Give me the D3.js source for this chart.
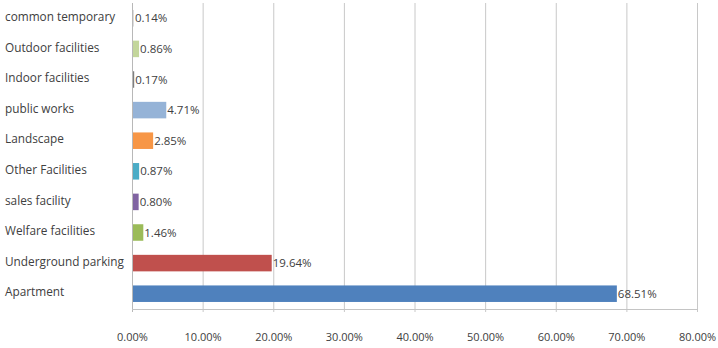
<!DOCTYPE html>
<html>
<head>
<meta charset="utf-8">
<script src="https://cdn.jsdelivr.net/npm/d3@7"></script>
<style>
  body { margin: 0; background: #fff; }
  svg text { font-family: "Open Sans", sans-serif; fill: #404040; }
</style>
</head>
<body>
<svg id="canvas"></svg>
<script>
let categories = ['common temporary', 'Outdoor facilities', 'Indoor facilities', 'public works', 'Landscape',
  'Other Facilities', 'sales facility', 'Welfare facilities', 'Underground parking', 'Apartment'];
let values = [0.14, 0.86, 0.17, 4.71, 2.85, 0.87, 0.80, 1.46, 19.64, 68.51];
let colors = ['#dcdcdc', '#c3d69b', '#7f7f7f', '#95b3d7', '#f79646', '#4bacc6', '#8064a2', '#9bbb59', '#c0504d', '#4f81bd'];
let ticks = [0, 10, 20, 30, 40, 50, 60, 70, 80];

let width = 718;
let height = 348;
let plotLeft = 132;
let plotRight = 697;
let plotTop = 3;
let plotBottom = 309;

let svg = d3.select('#canvas')
  .attr('width', width)
  .attr('height', height);

let xScale = d3.scaleLinear()
  .domain([0, 80])
  .range([plotLeft, plotRight]);

let yScale = d3.scaleBand()
  .domain(categories)
  .range([plotTop, plotBottom])
  .paddingInner(0.46)
  .paddingOuter(0.23);

// gridlines
svg.append('g')
  .selectAll('line')
  .data(ticks)
  .enter()
  .append('line')
  .attr('x1', (d) => xScale(d) + 0.5)
  .attr('x2', (d) => xScale(d) + 0.5)
  .attr('y1', plotTop)
  .attr('y2', plotBottom + 3)
  .attr('stroke', (d) => d === 0 ? '#b8b8b8' : '#c8c8c8')
  .attr('stroke-width', 1);

// bottom axis line
svg.append('line')
  .attr('x1', plotLeft)
  .attr('x2', plotRight + 1)
  .attr('y1', plotBottom + 0.5)
  .attr('y2', plotBottom + 0.5)
  .attr('stroke', '#c4c4c4');

// bars
svg.selectAll('rect.bar')
  .data(values)
  .enter()
  .append('rect')
  .attr('class', 'bar')
  .attr('x', xScale(0) + 1)
  .attr('y', (d, i) => yScale(categories[i]))
  .attr('width', (d) => Math.max(1, xScale(d) - xScale(0)))
  .attr('height', yScale.bandwidth())
  .attr('fill', (d, i) => colors[i]);

// value labels
svg.selectAll('text.val')
  .data(values)
  .enter()
  .append('text')
  .attr('class', 'val')
  .attr('x', (d) => xScale(d) + 2)
  .attr('y', (d, i) => yScale(categories[i]) + yScale.bandwidth() / 2)
  .attr('dy', '0.35em')
  .style('font-size', '11.5px')
  .text((d) => d.toFixed(2) + '%');

// category labels
let yAxis = d3.axisLeft(yScale).tickSize(0).tickPadding(0);
svg.append('g')
  .attr('transform', 'translate(5, -1)')
  .call(yAxis)
  .call((g) => g.select('.domain').remove())
  .selectAll('text')
  .attr('text-anchor', 'start')
  .style('font-size', '11.8px')
  .style('font-family', '"Open Sans", sans-serif');

// x tick labels
let xAxis = d3.axisBottom(xScale)
  .tickValues(ticks)
  .tickSize(0)
  .tickPadding(0)
  .tickFormat((d) => d.toFixed(2) + '%');
svg.append('g')
  .attr('transform', 'translate(0, 333)')
  .call(xAxis)
  .call((g) => g.select('.domain').remove())
  .selectAll('text')
  .style('font-size', '11px')
  .style('font-family', '"Open Sans", sans-serif');
</script>
</body>
</html>
